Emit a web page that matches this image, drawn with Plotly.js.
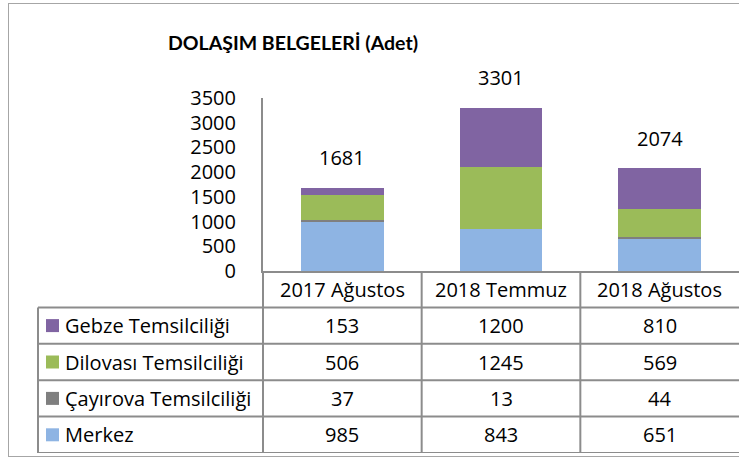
<!DOCTYPE html>
<html>
<head>
<meta charset="utf-8">
<script src="https://cdn.plot.ly/plotly-3.0.1.min.js"></script>
<style>
html,body{margin:0;padding:0;overflow:hidden;background:#fff;}
#wrap{position:relative;width:739px;height:457px;}
#chart{position:absolute;left:0;top:0;width:739px;height:457px;}
#frame{position:absolute;left:8px;top:3px;width:740px;height:452px;border:1px solid #a6a6a6;border-right:none;pointer-events:none;}
</style>
</head>
<body>
<div id="wrap"><div id="chart"></div><div id="frame"></div></div>
<script>
const categories = ['2017 Ağustos', '2018 Temmuz', '2018 Ağustos'];
const merkez = [985, 843, 651];
const cayirova = [37, 13, 44];
const dilovasi = [506, 1245, 569];
const gebze = [153, 1200, 810];
const seriesNames = ['Gebze Temsilciliği', 'Dilovası Temsilciliği', 'Çayırova Temsilciliği', 'Merkez'];
const yTicks = [0, 500, 1000, 1500, 2000, 2500, 3000, 3500];
const chartTitle = 'DOLAŞIM BELGELERİ (Adet)';

const colors = {gebze: '#8064A2', dilovasi: '#9BBB59', cayirova: '#7F7F7F', merkez: '#8EB4E3'};
// table rows top-to-bottom
const tableRows = [
  {name: seriesNames[0], vals: gebze, color: colors.gebze},
  {name: seriesNames[1], vals: dilovasi, color: colors.dilovasi},
  {name: seriesNames[2], vals: cayirova, color: colors.cayirova},
  {name: seriesNames[3], vals: merkez, color: colors.merkez}
];
// stack order bottom-to-top
const stack = [
  {name: seriesNames[3], vals: merkez, color: colors.merkez},
  {name: seriesNames[2], vals: cayirova, color: colors.cayirova},
  {name: seriesNames[1], vals: dilovasi, color: colors.dilovasi},
  {name: seriesNames[0], vals: gebze, color: colors.gebze}
];
const totals = categories.map((c, i) => merkez[i] + cayirova[i] + dilovasi[i] + gebze[i]);

const W = 739, H = 457;
const plotLeft = 263, legLeft = 38;
const lineCol = '#8c8c8c';
const FS = 20;

const traces = stack.map(s => ({
  type: 'bar', x: categories, y: s.vals, name: s.name,
  marker: {color: s.color}, width: 0.52, hoverinfo: 'skip'
}));

const shapes = [];
const annotations = [];
// horizontal table lines
for (let r = 1; r <= 5; r++) {
  shapes.push({type: 'line', xref: 'paper', yref: 'y2', x0: legLeft / W, x1: 1, y0: r, y1: r,
    line: {color: lineCol, width: 2}});
}
shapes.push({type: 'line', xref: 'paper', yref: 'y2', x0: legLeft / W, x1: legLeft / W, y0: 1, y1: 5,
  line: {color: lineCol, width: 2}});
shapes.push({type: 'line', xref: 'paper', yref: 'y2', x0: plotLeft / W, x1: plotLeft / W, y0: 0, y1: 5,
  line: {color: lineCol, width: 2}});
for (let j = 0; j < categories.length - 1; j++) {
  shapes.push({type: 'line', xref: 'x', yref: 'y2', x0: j + 0.5, x1: j + 0.5, y0: 0, y1: 5,
    line: {color: lineCol, width: 2}});
}
// header row
categories.forEach((c, j) => {
  annotations.push({xref: 'x', yref: 'y2', x: j, y: 0.5, text: c, showarrow: false,
    xanchor: 'center', yanchor: 'middle', font: {size: FS}});
});
tableRows.forEach((row, i) => {
  shapes.push({type: 'rect', xref: 'paper', yref: 'y2', xsizemode: 'pixel', ysizemode: 'pixel',
    xanchor: 52.5 / W, yanchor: i + 1.5, x0: -6.5, x1: 6.5, y0: -6.5, y1: 6.5,
    fillcolor: row.color, line: {width: 0}});
  annotations.push({xref: 'paper', yref: 'y2', x: 63 / W, y: i + 1.5, text: row.name, showarrow: false,
    xanchor: 'left', yanchor: 'middle', font: {size: FS}});
  row.vals.forEach((v, j) => {
    annotations.push({xref: 'x', yref: 'y2', x: j, y: i + 1.5, text: String(v), showarrow: false,
      xanchor: 'center', yanchor: 'middle', font: {size: FS}});
  });
});
// totals
totals.forEach((t, j) => {
  annotations.push({xref: 'x', yref: 'y', x: categories[j], y: t, text: String(t), showarrow: false,
    xanchor: 'center', yanchor: 'middle', yshift: 30, font: {size: FS}});
});

const mt = 98, mb = 4;
const plotH = H - mt - mb;
const split = (453 - 271) / plotH;

const layout = {
  width: W, height: H,
  margin: {l: 0, r: 0, t: mt, b: mb, pad: 0},
  paper_bgcolor: '#fff', plot_bgcolor: 'rgba(0,0,0,0)',
  font: {family: '"Open Sans", "Noto Sans", sans-serif', size: FS, color: '#000'},
  showlegend: false,
  barmode: 'stack',
  title: {text: chartTitle, x: 293 / W, xanchor: 'center', y: 1 - 43 / H, yanchor: 'middle',
    font: {family: 'Lato, sans-serif', size: 19.5, weight: 'bold', color: '#000'}},
  xaxis: {type: 'category', domain: [plotLeft / W, 1], range: [-0.5, 2.5], anchor: 'y',
    showline: true, linecolor: lineCol, linewidth: 2, ticks: '', showticklabels: false,
    showgrid: false, zeroline: false, fixedrange: true},
  yaxis: {domain: [split, 1], range: [0, 3500], tickvals: yTicks, ticktext: yTicks.map(String),
    showline: true, linecolor: lineCol, linewidth: 2, ticks: '', ticklabelstandoff: 21,
    showgrid: false, zeroline: false, tickfont: {size: FS}, fixedrange: true},
  yaxis2: {domain: [0, split], range: [5, 0], anchor: 'x', visible: false, showgrid: false,
    zeroline: false, fixedrange: true},
  shapes: shapes,
  annotations: annotations
};

Plotly.newPlot('chart', traces, layout, {staticPlot: true, displayModeBar: false});
</script>
</body>
</html>
